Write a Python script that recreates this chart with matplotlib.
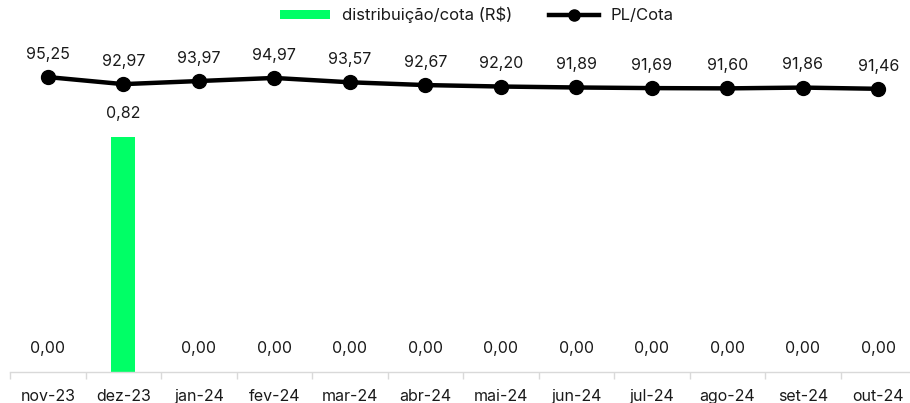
import matplotlib
matplotlib.use("Agg")
import matplotlib.pyplot as plt
import numpy as np
from matplotlib.lines import Line2D
from matplotlib.patches import Patch

plt.rcParams['font.family'] = ['Inter', 'DejaVu Sans']

months = ["nov-23", "dez-23", "jan-24", "fev-24", "mar-24", "abr-24",
          "mai-24", "jun-24", "jul-24", "ago-24", "set-24", "out-24"]
distribuicao = [0.00, 0.82, 0.00, 0.00, 0.00, 0.00, 0.00, 0.00, 0.00, 0.00, 0.00, 0.00]
pl_cota = [95.25, 92.97, 93.97, 94.97, 93.57, 92.67, 92.20, 91.89, 91.69, 91.60, 91.86, 91.46]

W, H = 910, 403
fig = plt.figure(figsize=(W / 100, H / 100), dpi=100)
left, right, bottom, top = 10, 916, 372, 28
ax = fig.add_axes([left / W, 1 - bottom / H, (right - left) / W, (bottom - top) / H])
ax2 = ax.twinx()

x = np.arange(len(months))
green = "#00FF66"
ax.bar(x, distribuicao, width=0.32, color=green, zorder=2)
ax.set_ylim(0, 1.2)
ax.set_xlim(-0.5, len(months) - 0.5)

ax2.plot(x, pl_cota, color="black", lw=3.2, marker="o", ms=10, zorder=3)
ax2.set_ylim(0, 111.1)

def fmt(v):
    return f"{v:.2f}".replace(".", ",")

FS = 11.5
TXT = "#1a1a1a"
for xi, v in zip(x, distribuicao):
    ax.annotate(fmt(v), (xi, v), xytext=(0, 11.5), textcoords="offset points",
                ha="center", va="bottom", fontsize=FS, color=TXT)
for xi, v in zip(x, pl_cota):
    ax2.annotate(fmt(v), (xi, v), xytext=(0, 11), textcoords="offset points",
                 ha="center", va="bottom", fontsize=FS, color=TXT)

for a in (ax, ax2):
    for s in ("top", "right", "left"):
        a.spines[s].set_visible(False)
    a.set_yticks([])
ax2.spines["bottom"].set_visible(False)
ax.spines["bottom"].set_color("#D9D9D9")
ax.spines["bottom"].set_linewidth(1.0)

ax.set_xticks(x)
ax.set_xticklabels(months, fontsize=FS, color=TXT)
ax.tick_params(axis="x", which="major", length=0, pad=12)
ax.set_xticks(np.arange(-0.5, len(months), 1.0), minor=True)
ax.tick_params(axis="x", which="minor", length=5, color="#D9D9D9", width=1.0)

handles = [Patch(facecolor=green, edgecolor="none"),
           Line2D([0], [0], color="black", lw=3.2, marker="o", ms=8)]
fig.legend(handles, ["distribuição/cota (R$)", "PL/Cota"], loc="center",
           bbox_to_anchor=(477 / W, 1 - 15 / H), ncol=2, frameon=False,
           fontsize=12, handlelength=3.0, handleheight=0.5, columnspacing=2.2,
           handletextpad=0.7, labelcolor=TXT)

fig.savefig("out.png", dpi=100)
